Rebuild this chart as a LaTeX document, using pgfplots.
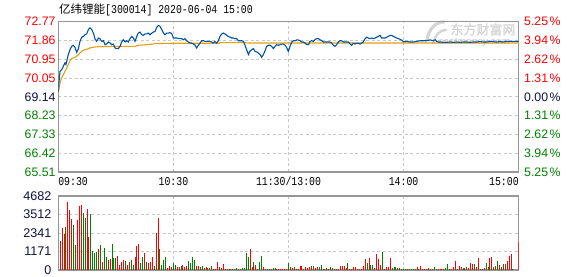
\documentclass[border=0pt]{standalone}
\usepackage{pgfplots}
\usepackage{pgfplotstable}
\pgfplotsset{compat=1.18}
\usepackage{fontspec}
\setmainfont{Liberation Sans}
\newfontfamily\cjk{Noto Sans CJK SC}
\newfontfamily\cjkb[FakeBold=1.5]{Noto Sans CJK SC}
\newfontfamily\mono[FakeStretch=0.82]{Liberation Mono}
\definecolor{pred}{RGB}{255,0,0}
\definecolor{pgreen}{RGB}{0,128,0}
\definecolor{navy}{RGB}{16,16,64}
\definecolor{lineblue}{RGB}{0,82,165}
\definecolor{avgorange}{RGB}{226,160,20}
\definecolor{gridgray}{RGB}{200,200,200}
\definecolor{framegray}{RGB}{150,150,150}
\definecolor{wm}{RGB}{212,212,212}

\pgfplotstableread{
m p
0 69.37
0.4 69.89
0.9 70.37
1.8 70.45
2.6 70.61
3.5 70.78
4.0 70.70
4.5 70.89
5.2 71.18
6.1 71.42
7.0 71.58
7.8 71.63
8.7 71.53
9.6 71.29
10.5 71.47
11.3 71.82
12.2 72.02
13.1 72.06
13.9 72.14
14.8 72.18
15.7 72.39
16.5 72.47
17.4 72.39
18.3 72.22
19.1 71.95
20.0 71.82
20.9 71.98
21.7 71.95
22.6 71.82
23.5 71.85
24.4 71.66
25.2 71.69
26.1 71.79
27.0 71.74
27.8 71.66
28.7 71.69
29.6 71.50
30.4 71.47
31.3 71.47
32.2 71.58
33.0 71.79
33.9 71.90
34.8 71.79
35.7 71.85
36.5 71.79
37.4 71.95
38.3 72.06
39.1 71.98
40.0 71.82
40.9 72.06
41.7 72.22
42.6 72.27
43.5 72.14
44.3 72.11
45.2 72.18
46.1 72.18
46.9 72.22
47.8 72.14
48.7 72.22
49.6 72.27
50.4 72.30
51.3 72.50
52.2 72.59
53.0 72.55
53.9 72.39
54.8 72.22
55.6 72.14
56.5 72.22
57.4 72.22
58.2 72.24
59.1 72.20
60.0 71.98
61.7 71.98
63.4 71.95
64.3 71.95
65.2 71.90
66.0 71.95
66.9 71.85
67.8 71.79
68.7 71.74
69.5 71.74
70.4 71.69
71.3 71.63
72.1 71.50
73.0 71.63
73.9 71.74
74.7 71.85
75.6 71.85
76.5 71.82
79.1 71.82
79.9 71.79
80.8 71.74
81.7 71.82
82.6 71.74
83.4 71.85
84.3 72.06
85.2 72.18
86.0 72.22
86.9 72.18
87.8 72.11
88.6 72.06
89.5 72.02
90.4 71.98
91.2 71.98
92.1 71.95
93.0 71.95
93.9 71.85
94.7 71.85
95.6 71.85
96.5 71.82
97.3 71.63
98.2 71.42
99.1 71.18
99.9 71.34
100.8 71.42
101.7 71.47
102.5 71.34
103.4 71.31
104.3 71.26
105.2 71.18
106.0 71.05
106.9 71.18
107.8 71.37
108.6 71.58
109.5 71.63
110.4 71.63
111.2 71.58
112.1 71.47
113.0 71.58
113.8 71.66
114.7 71.63
115.6 71.66
116.5 71.69
117.3 71.69
118.2 71.64
119.0 71.53
119.9 71.34
120.8 71.58
121.7 71.79
122.5 71.85
123.4 71.85
124.3 71.89
125.1 71.89
126.0 71.85
126.9 71.79
127.7 71.79
128.6 71.74
129.5 71.66
130.4 71.66
131.2 71.82
132.1 71.85
133.0 71.82
133.8 71.90
134.7 71.95
135.6 71.95
136.4 71.90
137.3 71.85
138.2 71.79
141.6 71.79
142.5 71.74
143.4 71.63
144.3 71.58
145.1 71.66
146.0 71.79
146.9 71.85
147.7 71.85
148.6 71.79
151.2 71.79
152.1 71.69
152.9 71.63
153.8 71.73
154.7 71.69
155.5 71.73
156.4 71.73
157.3 71.69
158.2 71.74
159.0 71.79
159.9 71.95
160.8 72.02
161.6 71.98
162.5 71.95
163.4 71.98
164.2 71.95
165.1 71.98
166.0 72.02
166.8 72.06
167.7 72.11
168.6 71.98
170.3 71.98
171.2 72.02
172.1 72.06
172.9 72.11
173.8 72.11
174.7 72.06
175.5 72.02
176.4 71.98
177.3 71.95
178.1 71.92
179.0 71.88
179.9 71.80
181.6 71.82
183.3 71.79
185.1 71.79
186.8 71.82
188.6 71.85
190.3 71.85
192.0 71.85
193.8 71.89
195.5 71.85
196.4 71.90
197.2 71.82
198.1 71.79
199.0 71.79
200.7 71.77
202.5 71.77
204.2 71.79
205.9 71.77
207.7 71.79
209.4 71.77
211.2 71.79
212.9 71.79
214.6 71.77
216.4 71.79
218.1 71.79
219.8 71.81
221.6 71.79
223.3 71.79
225.1 71.82
226.8 71.81
228.5 71.79
230.3 71.81
232.0 71.79
233.8 71.82
235.5 71.82
237.2 71.82
239.0 71.82
240 71.82
}\pricetable

\pgfplotstableread{
m p
0 69.30
0.4 69.57
0.9 69.81
1.8 70.05
2.6 70.21
3.5 70.37
4.4 70.53
5.2 70.70
6.1 70.89
7.0 70.99
7.8 71.02
8.7 71.05
9.6 71.10
10.5 71.18
11.3 71.26
12.2 71.34
13.1 71.39
13.9 71.42
14.8 71.44
15.7 71.47
16.5 71.50
17.4 71.52
18.3 71.53
19.1 71.55
22.6 71.57
33.0 71.58
40.0 71.58
41.7 71.63
48.7 71.68
50.4 71.71
60.9 71.73
84.0 71.73
84.3 71.76
97.0 71.76
99.0 71.74
240 71.74
}\avgtable

\pgfplotstableread{
m v
1 1835
2 2678
3 2278
5 4302
6 3796
7 3227
10 3164
11 4070
12 4113
15 3859
16 2067
21 1308
23 506
26 633
27 696
31 886
32 295
33 527
34 633
36 316
37 506
40 844
41 1519
42 1645
45 1076
47 464
48 527
49 844
51 2362
52 3290
57 105
58 253
59 169
62 169
63 169
65 316
66 169
67 253
72 253
73 253
76 127
78 127
79 127
81 84
82 84
83 506
84 169
86 380
87 84
88 84
90 84
94 84
100 1350
101 169
103 337
104 84
107 169
108 84
111 84
114 84
115 84
116 84
117 84
118 84
119 84
121 169
122 127
124 84
125 84
126 253
127 253
129 169
130 127
131 169
132 253
134 127
135 169
138 84
140 127
141 84
144 84
145 84
146 84
147 253
148 253
149 253
150 127
152 42
154 169
155 169
156 84
157 84
158 84
159 253
160 675
162 759
165 127
166 1012
167 696
168 316
170 84
171 169
172 169
173 759
177 127
179 84
183 42
187 169
189 253
190 84
191 42
192 42
194 84
195 84
198 42
199 42
200 42
201 42
205 84
206 169
207 590
209 253
210 169
212 127
214 127
215 464
216 380
218 211
219 759
221 84
222 127
225 759
226 844
228 253
230 337
232 380
234 590
235 886
236 1012
240 1772
}\redvol

\pgfplotstableread{
m v
4 2742
8 2847
9 1582
13 3627
14 3290
17 3543
18 1202
19 1076
20 1139
22 1582
24 1392
25 823
28 1645
29 738
30 759
35 569
38 633
39 337
43 464
44 844
46 506
50 253
53 1308
54 337
55 633
56 801
60 464
61 316
64 253
68 590
69 422
70 844
71 633
74 169
75 253
77 169
80 253
85 127
89 84
91 84
92 84
93 127
95 84
96 127
97 127
98 1097
99 844
102 506
105 506
106 886
109 84
110 84
112 127
113 127
120 464
123 169
128 84
133 253
136 169
137 316
139 84
142 169
143 127
151 422
153 84
161 464
163 316
164 316
169 1139
174 127
175 169
176 169
178 127
180 42
181 42
182 42
184 42
185 42
186 42
188 84
193 127
196 169
197 84
202 127
203 380
204 42
208 84
211 127
213 169
217 380
220 42
223 464
224 169
227 169
229 590
231 169
233 380
237 42
}\greenvol

\pgfplotsset{
  common/.style={
    scale only axis, anchor=south west, width=460.4pt,
    xmin=0, xmax=240, xtick={0,60,120,180,240},
    major tick length=0pt,
    axis line style={framegray, line width=1.3pt},
    major grid style={gridgray, line width=0.8pt, dash pattern=on 3pt off 2.5pt},
    scaled y ticks=false,
  },
}

\begin{document}
\begin{tikzpicture}
\useasboundingbox (0pt,0pt) rectangle (578pt,276pt);
% title
\node[anchor=west, inner sep=0pt] at (59pt,266pt) {\fontsize{11.5}{12}\cjk 亿纬锂能\fontsize{12}{12}\mono[300014] 2020-06-04 15:00};
% watermark
\draw[wm, line width=3.2pt, line cap=round] (427pt,236pt) .. controls (429pt,248pt) and (436pt,254pt) .. (444pt,254pt);
\draw[wm, line width=2.4pt, line cap=round] (433pt,233pt) .. controls (436pt,242pt) and (440pt,246pt) .. (446pt,246pt);
\node[text=wm, inner sep=0pt] at (483pt,246.5pt) {\fontsize{13}{13}\cjkb 东方财富网};
\node[text=wm, inner sep=0pt] at (474pt,233.5pt) {\fontsize{9.5}{9.5}\selectfont\bfseries\itshape eastmoney.com};

% price panel
\begin{axis}[common, at={(58.3pt,104pt)}, height=150.3pt,
  ymin=65.51, ymax=72.77,
  ytick={65.51,66.42,67.33,68.23,69.14,70.05,70.95,71.86,72.77},
  yticklabels={\textcolor{pgreen}{65.51},\textcolor{pgreen}{66.42},\textcolor{pgreen}{67.33},\textcolor{pgreen}{68.23},\textcolor{navy}{69.14},\textcolor{pred}{70.05},\textcolor{pred}{70.95},\textcolor{pred}{71.86},\textcolor{pred}{72.77}},
  xticklabels={\rlap{09:30},10:30,11:30/13:00,14:00,\llap{15:00}},
  grid=major,
  xticklabel style={font=\fontsize{12}{12}\mono, anchor=north, inner sep=0pt, yshift=-5pt},
  yticklabel style={font=\fontsize{12.3}{12}\selectfont, anchor=east, inner sep=0pt, xshift=-2.6pt},
]
\addplot[avgorange, line width=1.1pt] table[x=m,y=p] {\avgtable};
\addplot[lineblue, line width=1.1pt] table[x=m,y=p] {\pricetable};
\end{axis}

% right percentage labels
\begin{axis}[scale only axis, anchor=south west, width=460.4pt, at={(58.3pt,104pt)}, height=150.3pt,
  xmin=0, xmax=240, ymin=65.51, ymax=72.77,
  axis x line=none, axis y line*=right, y axis line style={draw=none},
  major tick length=0pt,
  ytick={65.51,66.42,67.33,68.23,69.14,70.05,70.95,71.86,72.77},
  yticklabels={\textcolor{pgreen}{5.25\hspace{1.5pt}\%},\textcolor{pgreen}{3.94\hspace{1.5pt}\%},\textcolor{pgreen}{2.62\hspace{1.5pt}\%},\textcolor{pgreen}{1.31\hspace{1.5pt}\%},\textcolor{navy}{0.00\hspace{1.5pt}\%},\textcolor{pred}{1.31\hspace{1.5pt}\%},\textcolor{pred}{2.62\hspace{1.5pt}\%},\textcolor{pred}{3.94\hspace{1.5pt}\%},\textcolor{pred}{5.25\hspace{1.5pt}\%}},
  yticklabel style={font=\fontsize{12.3}{12}\selectfont, anchor=west, inner sep=0pt, xshift=5.3pt},
]
\end{axis}

% volume panel
\begin{axis}[common, at={(58.3pt,6pt)}, height=74pt,
  ymin=0, ymax=4682,
  ytick={0,1171,2341,3512,4682},
  yticklabels={0,1171,2341,3512,4682},
  xticklabels={},
  grid=major,
  yticklabel style={font=\fontsize{12.6}{12}\selectfont, text=navy, anchor=east, inner sep=0pt, xshift=-6.6pt},
]
\addplot[ycomb, pred, line width=1pt] table[x=m,y=v] {\redvol};
\addplot[ycomb, pgreen, line width=1pt] table[x=m,y=v] {\greenvol};
\end{axis}
\end{tikzpicture}
\end{document}
